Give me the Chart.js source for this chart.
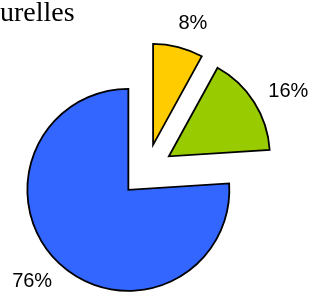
<!DOCTYPE html>
<html lang="fr">
<head>
    <meta charset="UTF-8">
    <title>Camembert</title>
    <script src="https://cdn.jsdelivr.net/npm/chart.js"></script>
<style>
  html, body { margin: 0; padding: 0; background: #fff; }
  #wrap { width: 312px; height: 293px; }
</style>
</head>
<body>
    <div id="wrap">
        <canvas id="chart1" width="312" height="293"></canvas>
    </div>
<script>

    // donnees
    var categories = ['Part 1', 'Part 2', 'Part 3'];
    var values = [8, 16, 76];
    var sliceColors = ['#FFCC00', '#99CC00', '#3366FF'];

    var pieRadius = 101;
    var explode = 26.5;

    // parts eclatees : on deplace le sommet de chaque part le long de son angle median
    // (l'option offset de Chart.js deforme les angles et le rayon)
    var explodeSlices = {
        id: 'explodeSlices',
        beforeDatasetsDraw: function(chart) {
            var area = chart.chartArea;
            var cx = (area.left + area.right) / 2;
            var cy = (area.top + area.bottom) / 2;
            chart.getDatasetMeta(0).data.forEach(function(arc) {
                var half = (arc.startAngle + arc.endAngle) / 2;
                arc.x = cx + Math.cos(half) * explode;
                arc.y = cy + Math.sin(half) * explode;
            });
        }
    };

    /* etiquettes en % a l'exterieur des parts */
    var pctLabels = {
        id: 'pctLabels',
        afterDatasetsDraw: function(chart) {
            var ctx = chart.ctx;
            var meta = chart.getDatasetMeta(0);
            var total = values.reduce(function(a, b) { return a + b; }, 0);
            ctx.save();
            ctx.font = '20px "Liberation Sans", Arial, sans-serif';
            ctx.fillStyle = '#000';
            ctx.textAlign = 'center';
            ctx.textBaseline = 'alphabetic';
            meta.data.forEach(function(arc, i) {
                var txt = Math.round(values[i] / total * 100) + '%';
                var m = ctx.measureText(txt);
                var w = m.width, h = m.actualBoundingBoxAscent;
                var a = (arc.startAngle + arc.endAngle) / 2 + 3.5 * Math.PI / 180;
                var ux = Math.cos(a), uy = Math.sin(a);
                var ext = Math.min(w / 2 / Math.max(Math.abs(ux), 0.01), h / 2 / Math.max(Math.abs(uy), 0.01));
                var d = pieRadius + 21 + ext;
                ctx.fillText(txt, arc.x + ux * d, arc.y + uy * d + h / 2);
            });
            ctx.restore();
        }
    };

    var ctx = document.getElementById('chart1').getContext('2d');
    var myPieChart = new Chart(ctx, {
        type: 'pie',
        data: {
            labels: categories,
            datasets: [{
                data: values,
                backgroundColor: sliceColors,
                borderColor: '#000',
                borderWidth: 1.8,
                borderJoinStyle: 'miter',
                radius: pieRadius
            }]
        },
        options: {
            responsive: false,
            animation: false,
            layout: {
                padding: { left: 0, right: 19, top: 0, bottom: 0 }
            },
            plugins: {
                legend: { display: false },
                tooltip: { enabled: false },
                title: {
                    display: true,
                    text: 'urelles',
                    align: 'start',
                    color: '#000',
                    font: { family: '"Liberation Serif", "Times New Roman", serif', size: 28, weight: 'normal', lineHeight: 1.0 },
                    padding: { top: 0, bottom: 20 }
                }
            }
        },
        plugins: [explodeSlices, pctLabels]
    });

</script>
</body>
</html>
